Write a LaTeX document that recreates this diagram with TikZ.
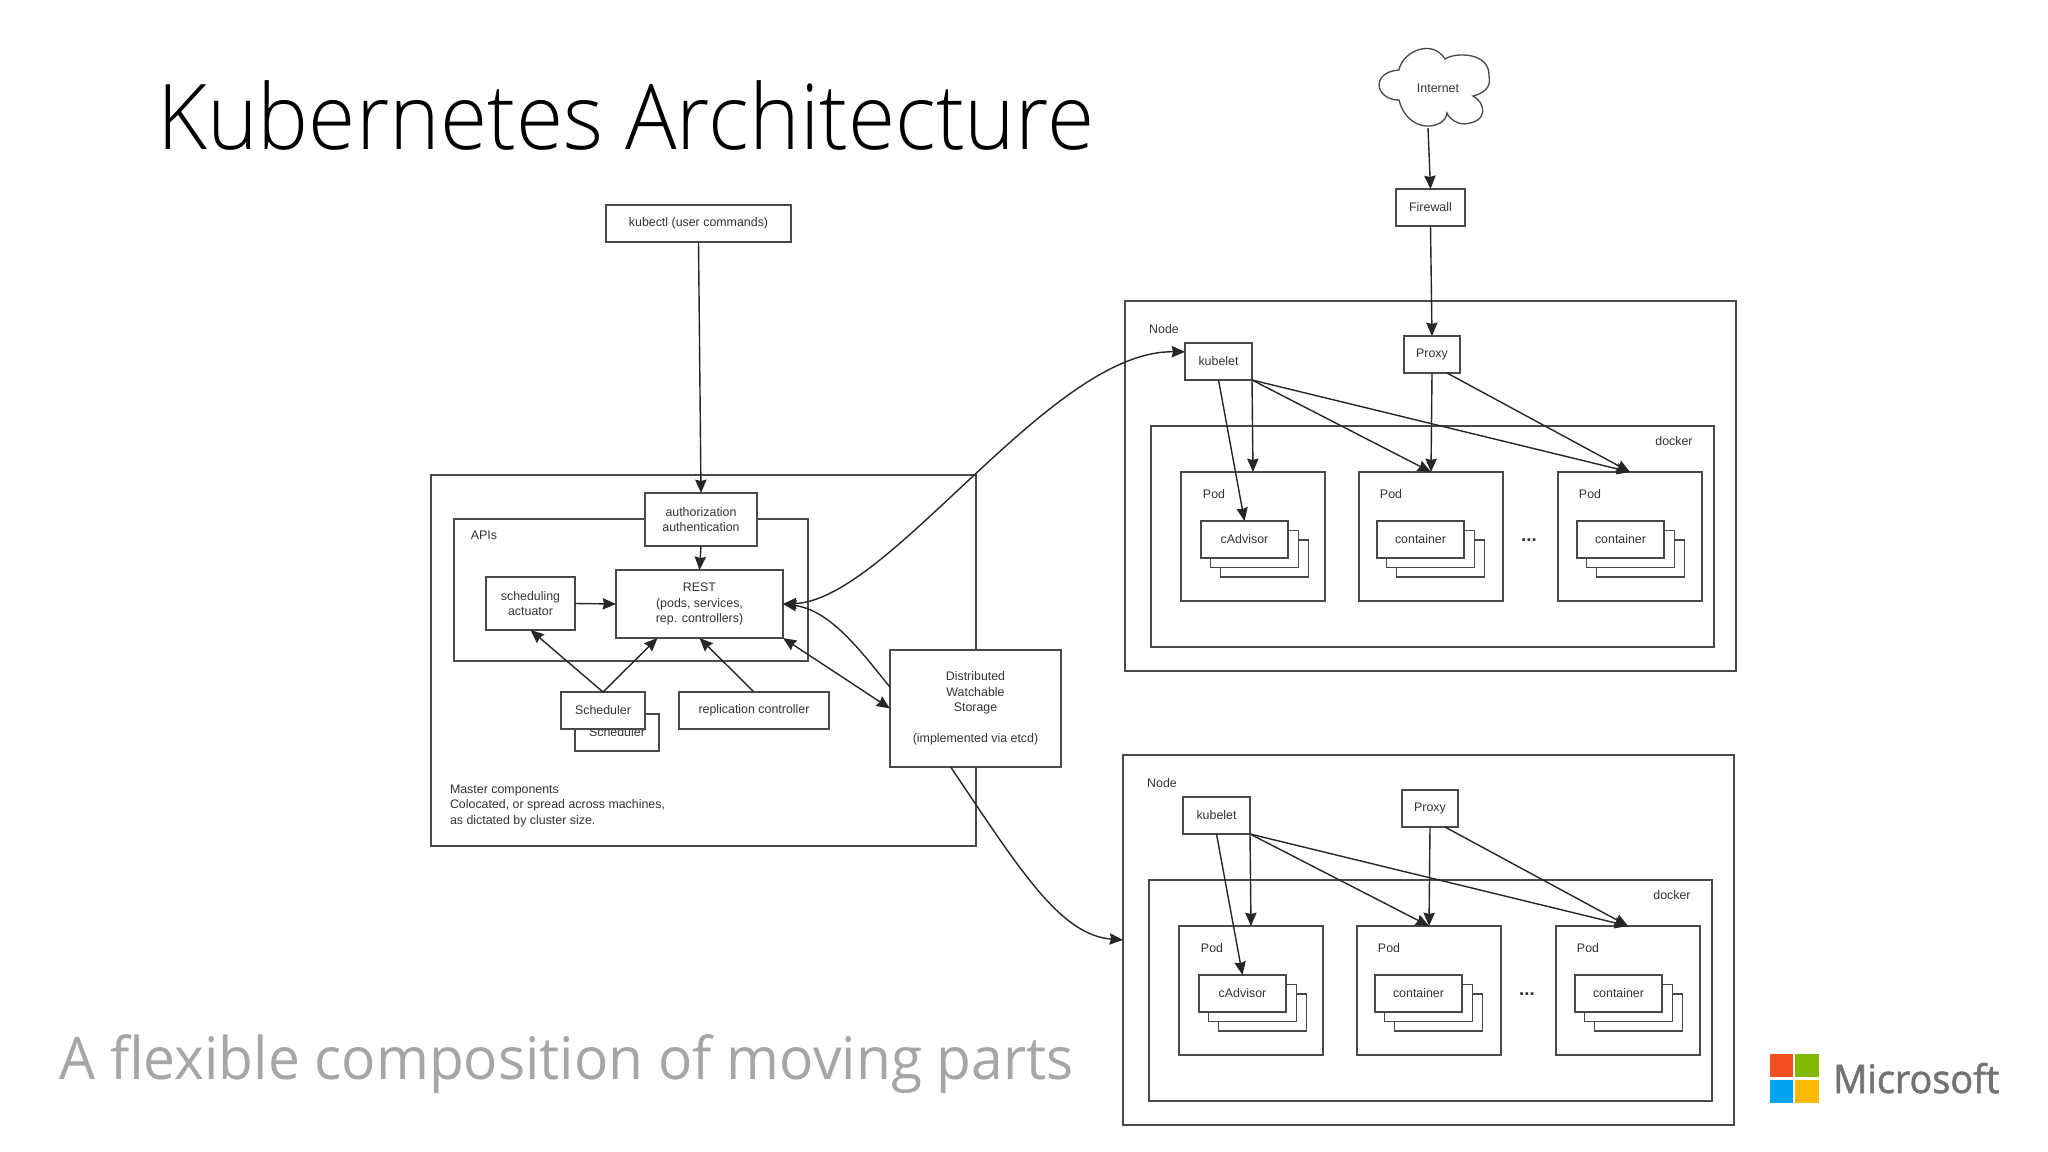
\documentclass[tikz,border=0pt]{standalone}
\usepackage{fontspec}
\usetikzlibrary{arrows.meta}
\setmainfont{Liberation Sans}
\newfontfamily\titlefont{Open Sans Light}[FakeStretch=0.947]
\newfontfamily\subfont{Open Sans}[FakeStretch=0.97]
\newfontfamily\logofont{Open Sans}[FakeBold=1.5,FakeStretch=0.96]
\definecolor{ink}{HTML}{333333}
\definecolor{edge}{HTML}{4A4A4A}
\definecolor{wire}{HTML}{262626}

\tikzset{
  w/.style={minimum width=#1*0.75pt},
  h/.style={minimum height=#1*0.75pt},
  box/.style={draw=edge, line width=1pt, fill=white, inner sep=0pt, outer sep=0pt,
    align=center, text=ink, font=\fontsize{9.3pt}{11.7pt}\selectfont},
  lbl/.style={inner sep=0pt, outer sep=0pt, text=ink, font=\fontsize{9.3pt}{11.7pt}\selectfont},
  conn/.style={draw=wire, line width=1.05pt, -{Stealth[length=10pt,width=8.5pt,inset=1pt]}},
  twoway/.style={conn, {Stealth[length=10pt,width=8.5pt,inset=1pt]}-{Stealth[length=10pt,width=8.5pt,inset=1pt]}},
}

% one worker: outer box, docker, pods and their arrows
\newcommand{\workernode}{
  \node[box,w=611,h=370] (node) at (1430.5,486) {};
  \node[lbl] (nodelbl) at (1164,329) {Node};
  \node[box,w=563,h=221] (docker) at (1432.5,536.5) {};
  \node[lbl] (dockerlbl) at (1674,441) {docker};
  \node[box,w=67,h=37] (kubelet) at (1218.5,361.5) {kubelet};
  \node[box,w=56,h=37] (proxy) at (1432,354.5) {Proxy};

  \node[box,w=144,h=129] (pod1) at (1253,536.5) {};
  \node[box,w=144,h=129] (pod2) at (1431,536.5) {};
  \node[box,w=144,h=129] (pod3) at (1630,536.5) {};
  \node[lbl] (pod1lbl) at (1214,494) {Pod};
  \node[lbl] (pod2lbl) at (1391,494) {Pod};
  \node[lbl] (pod3lbl) at (1590,494) {Pod};

  \node[box,w=88,h=37] (c1c) at (1264.5,558.5) {};
  \node[box,w=88,h=37] (c1b) at (1254.5,549) {};
  \node[box,w=87,h=37] (c1a) at (1244.5,539.5) {cAdvisor};
  \node[box,w=88,h=37] (c2c) at (1440.5,558.5) {};
  \node[box,w=88,h=37] (c2b) at (1430.5,549) {};
  \node[box,w=87,h=37] (c2a) at (1420.5,539.5) {container};
  \node[box,w=88,h=37] (c3c) at (1640.5,558.5) {};
  \node[box,w=88,h=37] (c3b) at (1630.5,549) {};
  \node[box,w=87,h=37] (c3a) at (1620.5,539.5) {container};
  \node[lbl,anchor=base,font=\fontsize{14pt}{14pt}\bfseries\selectfont] (dots) at (1529,541) {...};

  \draw[conn] (kubelet.south) -- (c1a.north);
  \draw[conn] (kubelet.south east) -- (pod1.north);
  \draw[conn] (kubelet.south east) -- (pod2.north);
  \draw[conn] (kubelet.south east) -- (pod3.north);
  \draw[conn] (proxy.south) -- (pod2.north);
  \draw[conn] (proxy.-51) -- (pod3.north);
}

\begin{document}
\begin{tikzpicture}[x=0.75pt,y=-0.75pt]
  \useasboundingbox (0,0) rectangle (2048,1152);
  \fill[white] (0,0) rectangle (2048,1152);

  % headings
  \node[anchor=base west,inner sep=0pt,text=black,font=\titlefont\fontsize{68pt}{68pt}\selectfont] (title) at (157,150) {Kubernetes Architecture};
  \node[anchor=base west,inner sep=0pt,text=black!35,font=\subfont\fontsize{44pt}{44pt}\selectfont] (subtitle) at (59,1079) {A flexible composition of moving parts};

  % logo
  \fill[fill={rgb,255:red,242;green,80;blue,34}] (1770,1054) rectangle (1793,1077);
  \fill[fill={rgb,255:red,127;green,186;blue,0}] (1795,1054) rectangle (1819,1077);
  \fill[fill={rgb,255:red,0;green,164;blue,239}] (1770,1080) rectangle (1793,1103);
  \fill[fill={rgb,255:red,255;green,185;blue,0}] (1795,1080) rectangle (1819,1103);
  \node[anchor=base west,inner sep=0pt,text=black!55,font=\logofont\fontsize{29.5pt}{29.5pt}\selectfont] (mslogo) at (1833,1093) {Microsoft};

  % master
  \node[box,w=545,h=371] (master) at (703.5,660.5) {};
  \node[box,w=354,h=142] (apis) at (631,590) {};
  \node[lbl] (apislbl) at (484,535) {APIs};
  \node[lbl,anchor=west,align=left] (masterlbl) at (450,806) {Master components\\Colocated, or spread across machines,\\as dictated by cluster size.};

  \node[box,w=185,h=37] (kubectl) at (698.5,223.5) {kubectl (user commands)};
  \node[box,w=112,h=53] (auth) at (701,519.5) {authorization\\authentication};
  \node[box,w=167,h=68] (rest) at (699.5,604) {REST\\(pods, services,\\rep. controllers)};
  \node[box,w=89,h=53] (actuator) at (530.5,603.5) {scheduling\\actuator};
  \node[box,w=84,h=37] (sched2) at (617,732.5) {Scheduler};
  \node[box,w=84,h=37] (sched1) at (603,710.5) {Scheduler};
  \node[box,w=150,h=37] (repl) at (754,710.5) {replication controller};
  \node[box,w=171,h=117] (storage) at (975.5,708.5) {Distributed\\Watchable\\Storage\\ \\(implemented via etcd)};

  % internet side
  \draw[edge,line width=1pt,fill=white] (1399,70)
    .. controls (1402,52) and (1432,38) .. (1445,59)
    .. controls (1455,52) and (1490,52) .. (1489,76)
    .. controls (1492,88) and (1482,94) .. (1473,96)
    .. controls (1485,102) and (1490,122) .. (1464,124)
    .. controls (1458,124) and (1450,120) .. (1447,113)
    .. controls (1445,130) and (1408,135) .. (1399,100)
    .. controls (1375,100) and (1370,72) .. (1399,70) -- cycle;
  \node[lbl] (internet) at (1438,88) {Internet};
  \coordinate (cloudout) at (1428,128);
  \node[box,w=69,h=37] (firewall) at (1430.5,207.5) {Firewall};

  % workers
  \begin{scope}[name prefix=a-]
    \workernode
  \end{scope}
  \begin{scope}[shift={(-2,454)},name prefix=b-]
    \workernode
  \end{scope}

  % connectors
  \draw[conn] (kubectl.south) -- (auth.north);
  \draw[conn] (auth.south) -- (rest.north);
  \draw[conn] (actuator.east) -- (rest.west);
  \draw[conn] (sched1.north) -- (actuator.south);
  \draw[conn] (sched1.north) -- (rest.-141);
  \draw[conn] (repl.north) -- (rest.south);
  \draw[twoway] (rest.south east) -- (storage.west);
  \draw[conn] (storage.166) .. controls (860,650) and (830,610) .. (rest.east);
  \draw[twoway] (rest.east) .. controls (890,600) and (1050,350) .. (a-kubelet.164);
  \draw[conn] (storage.-113) .. controls (1020,870) and (1060,935) .. (b-node.west);
  \draw[conn] (cloudout) -- (firewall.north);
  \draw[conn] (firewall.south) -- (a-proxy.north);
\end{tikzpicture}
\end{document}
